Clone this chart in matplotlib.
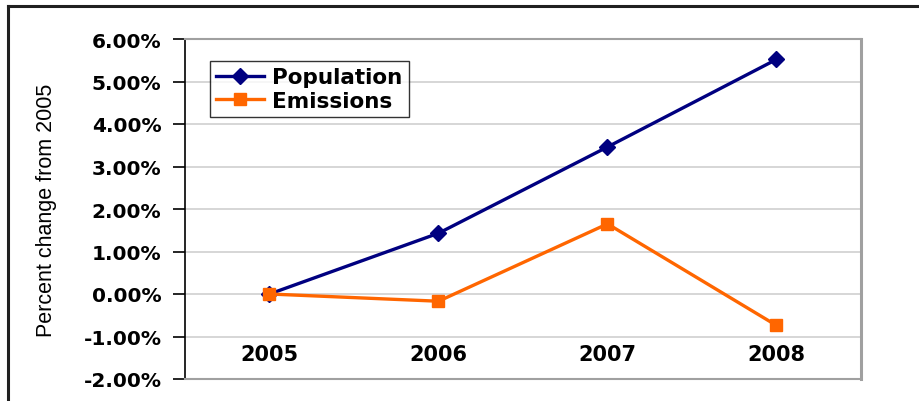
import matplotlib
matplotlib.use("Agg")
import matplotlib.pyplot as plt
from matplotlib.lines import Line2D
from matplotlib.ticker import FuncFormatter

# ----------------------
# Data (percent change from 2005)
# ----------------------
years = ["2005", "2006", "2007", "2008"]
population = [0.00, 1.43, 3.46, 5.52]
emissions = [0.00, -0.17, 1.65, -0.74]
y_ticks = [-2, -1, 0, 1, 2, 3, 4, 5, 6]

NAVY = "#000080"
ORANGE = "#FF6600"

W, H = 920, 402
fig = plt.figure(figsize=(W / 100, H / 100), dpi=100)
ax = fig.add_axes([185 / W, 1 - 380 / H, (861 - 185) / W, (380 - 40) / H])

x = list(range(len(years)))
ax.plot(x, population, color=NAVY, lw=2.4, marker="D", ms=8,
        label="Population", zorder=3)
ax.plot(x, emissions, color=ORANGE, lw=2.4, marker="s", ms=8,
        label="Emissions", zorder=3)

ax.set_xlim(-0.5, 3.5)
ax.set_ylim(-2, 6)
ax.set_yticks(y_ticks)
ax.yaxis.set_major_formatter(FuncFormatter(lambda v, p: f"{v:.2f}%"))
ax.grid(axis="y", color="#d0d0d0", lw=1.2)
ax.set_axisbelow(True)

# category labels sit just under the -1% line, as in the original
ax.set_xticks([])
for i, yr in enumerate(years):
    ax.text(i, -1.18, yr, ha="center", va="top", fontsize=15,
            fontweight="bold", family="DejaVu Sans")

for t in ax.get_yticklabels():
    t.set_fontweight("bold")
    t.set_fontsize(14.5)
    t.set_family("DejaVu Sans")
ax.tick_params(axis="y", direction="out", length=9, width=1.2,
               color="black", pad=8)

ax.spines["left"].set_color("black")
ax.spines["left"].set_linewidth(1.2)
for s in ("top", "right", "bottom"):
    ax.spines[s].set_color("#a0a0a0")
    ax.spines[s].set_linewidth(1.5)
ax.spines["right"].set_linewidth(2.2)

ax.set_ylabel("Percent change from 2005", fontsize=15.5,
              family="Liberation Sans")
ax.yaxis.set_label_coords(-128 / (861 - 185), 0.50)

leg = ax.legend(loc="upper left", bbox_to_anchor=(25 / 676, 1 - 22 / 340),
                frameon=True, fancybox=False, edgecolor="black",
                borderpad=0.3, handlelength=2.2, handletextpad=0.4,
                labelspacing=0.15, borderaxespad=0,
                prop={"family": "DejaVu Sans", "weight": "bold", "size": 15.5})
leg.get_frame().set_linewidth(1.0)

# outer chart frame (top and left edges are visible)
fig.add_artist(Line2D([8 / W, 1], [1 - 7 / H, 1 - 7 / H], color="#202020",
                      lw=2.2, transform=fig.transFigure))
fig.add_artist(Line2D([8 / W, 8 / W], [1 - 7 / H, 0], color="#202020",
                      lw=2.2, transform=fig.transFigure))

fig.savefig("out.png", dpi=100)
